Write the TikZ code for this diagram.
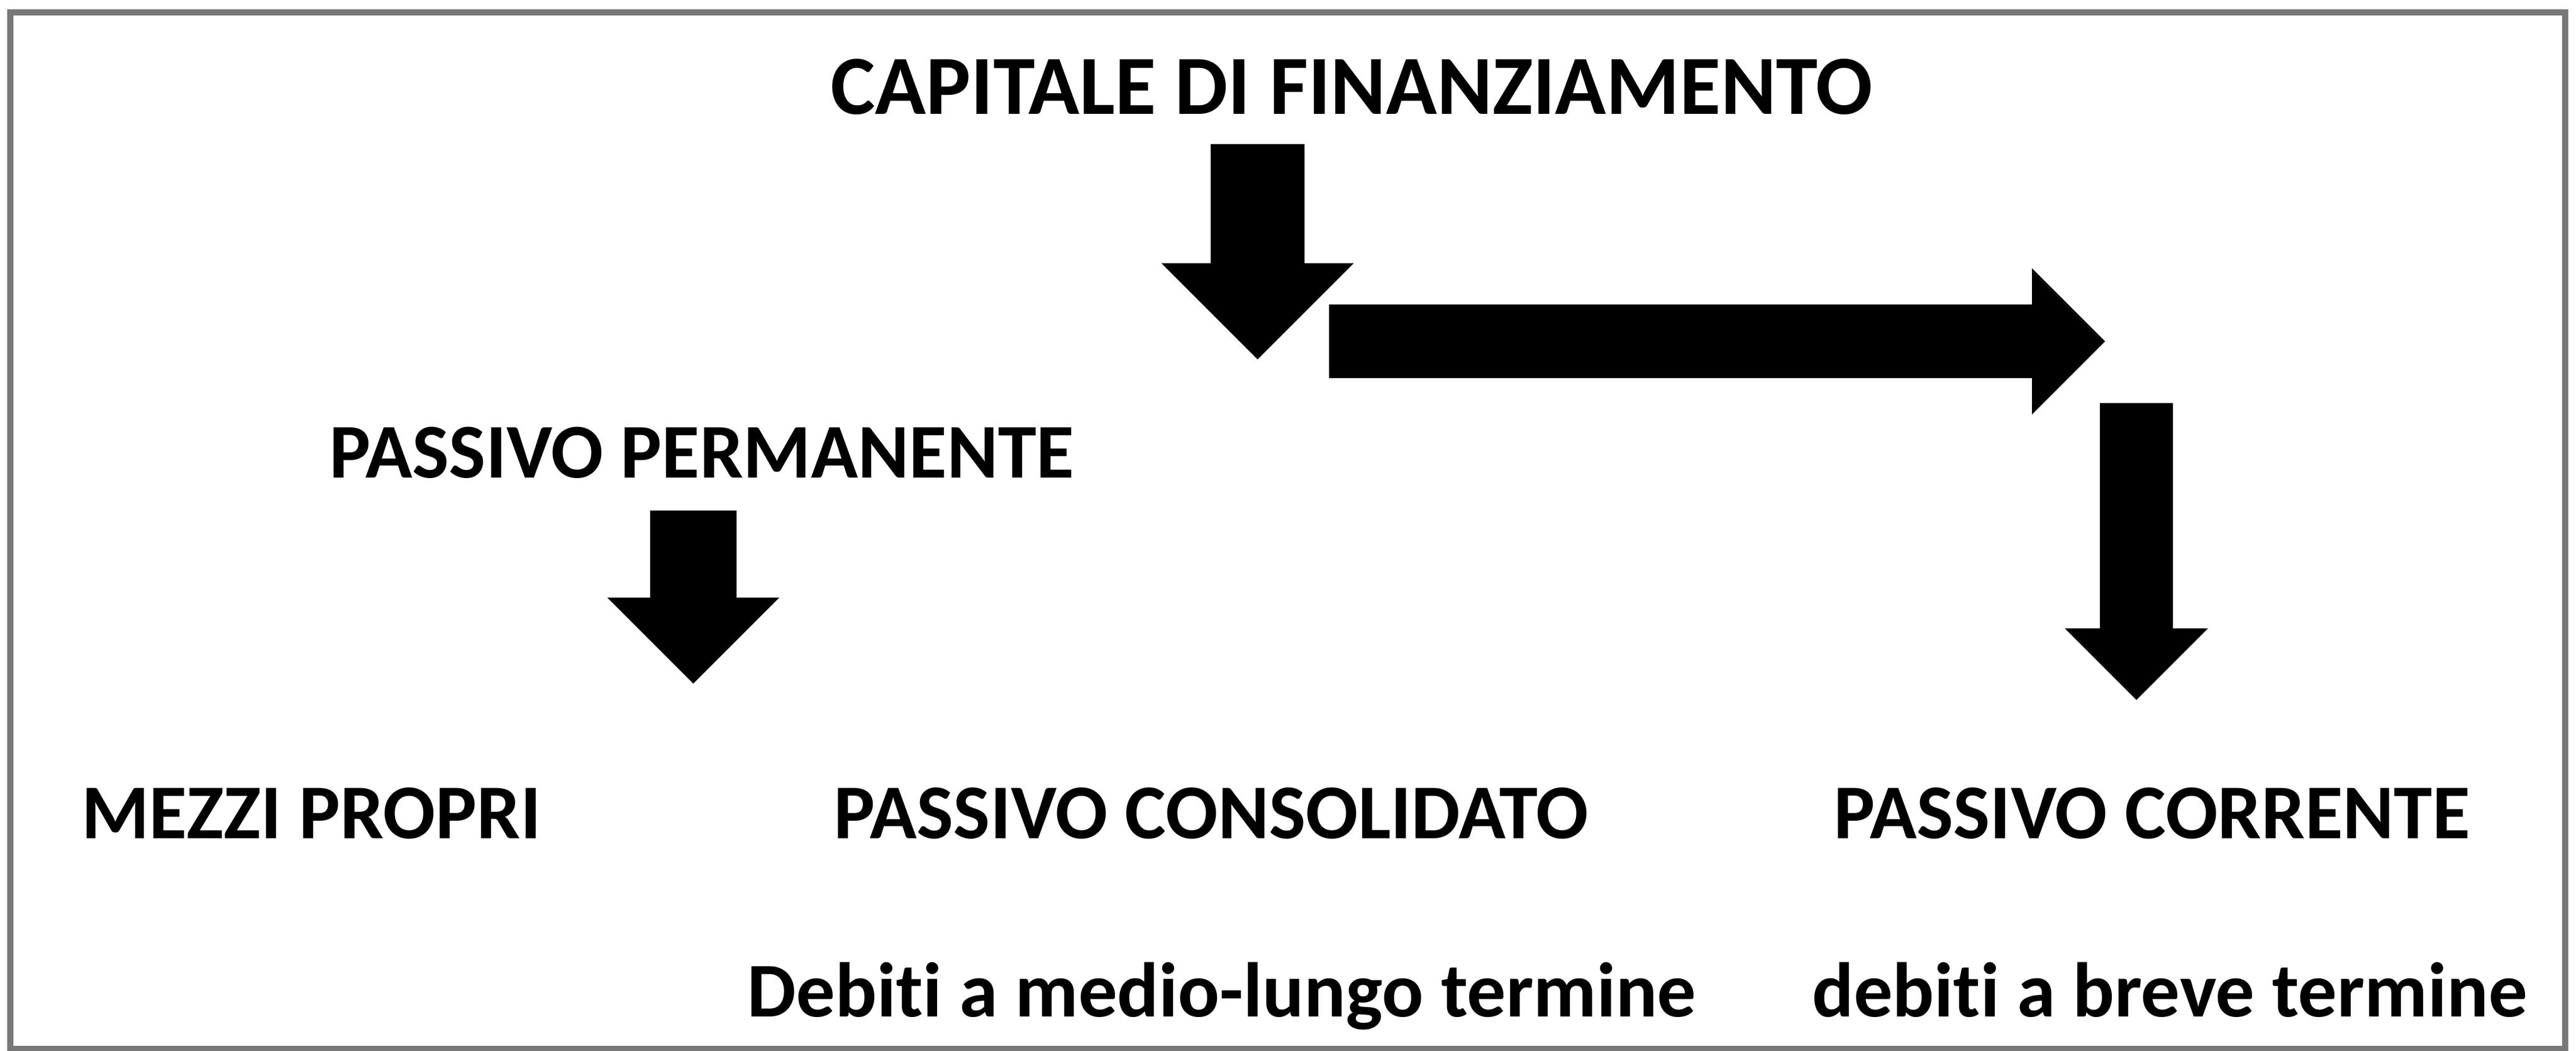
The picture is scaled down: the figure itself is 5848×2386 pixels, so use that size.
\documentclass[tikz,border=0pt]{standalone}
\usepackage{fontspec}
\setmainfont{Carlito}[Ligatures=NoCommon]
\usetikzlibrary{shapes.arrows}
\definecolor{framegray}{RGB}{120,120,120}

\begin{document}
\begin{tikzpicture}[
            x=0.1pt, y=-0.1pt,
            lbl/.style={anchor=base west,inner sep=0pt,font=\bfseries\fontsize{17.6}{20}\selectfont},
            blk/.style={single arrow,fill=black,draw=none,inner sep=0pt,outer sep=0pt,anchor=tip},
            blkdown/.style={blk,shape border rotate=270}
        ]
          \useasboundingbox (0,0) rectangle (5848,2386);
          \draw[framegray,line width=1.4pt] (23,28) rectangle (5823,2381);
          \node[lbl,font=\bfseries\fontsize{19.1}{22}\selectfont] (capfin) at (1884,259) {CAPITALE DI FINANZIAMENTO};
          \node[lbl] (passperm) at (746,1085) {PASSIVO PERMANENTE};
          \node[lbl] (mezzi) at (183,1903) {MEZZI PROPRI};
          \node[lbl] (passcons) at (1891,1903) {PASSIVO CONSOLIDATO};
          \node[lbl] (passcorr) at (4161,1903) {PASSIVO CORRENTE};
          \node[lbl] (debml) at (1695,2308) {Debiti a medio-lungo termine};
          \node[lbl] (debbr) at (4112,2308) {debiti a breve termine};
          \node[blkdown,minimum height=48.9pt,inner xsep=10.45pt,single arrow head extend=11.2pt] (capdown) at (2855,816) {};
          \node[blk,minimum height=176.2pt,inner ysep=8.15pt,single arrow head extend=8.25pt] (capright) at (4779,775) {};
          \node[blkdown,minimum height=67.4pt,inner xsep=8.1pt,single arrow head extend=7.95pt] (corrdown) at (4850,1589) {};
          \node[blkdown,minimum height=39.3pt,inner xsep=9.6pt,single arrow head extend=9.7pt] (permdown) at (1574,1552) {};
        \end{tikzpicture}
\end{document}
